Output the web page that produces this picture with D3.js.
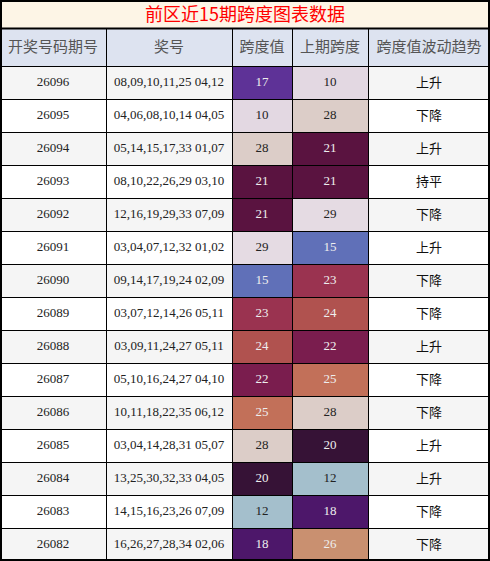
<!DOCTYPE html><html><head><meta charset="utf-8"><script src="https://cdn.jsdelivr.net/npm/d3@7"></script>
<style>body{margin:0;background:#fff}</style></head><body><svg id="c" width="490" height="561"></svg>
<script>
const title="前区近15期跨度图表数据";
const headers=["开奖号码期号","奖号","跨度值","上期跨度","跨度值波动趋势"];
const issues=["26096","26095","26094","26093","26092","26091","26090","26089","26088","26087","26086","26085","26084","26083","26082"];
const numbers=["08,09,10,11,25 04,12","04,06,08,10,14 04,05","05,14,15,17,33 01,07","08,10,22,26,29 03,10","12,16,19,29,33 07,09","03,04,07,12,32 01,02","09,14,17,19,24 02,09","03,07,12,14,26 05,11","03,09,11,24,27 05,11","05,10,16,24,27 04,10","10,11,18,22,35 06,12","03,04,14,28,31 05,07","13,25,30,32,33 04,05","14,15,16,23,26 07,09","16,26,27,28,34 02,06"];
const spans=[17,10,28,21,21,29,15,23,24,22,25,28,20,12,18];
const prevSpans=[10,28,21,21,29,15,23,24,22,25,28,20,12,18,26];
const trends=["上升","下降","上升","持平","下降","上升","下降","下降","上升","下降","下降","上升","上升","下降","下降"];

const svg=d3.select("#c");
const W=490,titleH=28,headH=38;
const x=d3.scaleOrdinal().domain(d3.range(5)).range([0,106,232,292,368]);
const wEnd=[106,232,292,368,490];
const y=d3.scaleBand().domain(d3.range(issues.length)).range([titleH+headH,561]);
const color=d3.scaleLinear().domain([10,12,15,17,18,20,21,22,23,24,25,26,28,29])
 .range(["#e3d8e2","#a4bfcc","#6070b8","#5e3297","#4d176a","#361236","#5a1340","#7a1d4e","#9a3350","#b0524f","#c27059","#c99070","#dccdc8","#e5dbe3"]);
const dark=v=>v>=15&&v<=26;
const cjk="'Noto Sans CJK SC',sans-serif", serif="'Liberation Serif','DejaVu Serif',serif";
svg.append("rect").attr("x",0).attr("y",0).attr("width",W).attr("height",titleH).attr("fill","#fdf5e6");
svg.append("text").attr("x",W/2).attr("y",titleH/2+2).attr("text-anchor","middle").attr("dominant-baseline","middle")
 .attr("fill","#f00").attr("font-family",cjk).attr("font-size",18).text(title);
headers.forEach((h,i)=>{
 svg.append("rect").attr("x",x(i)).attr("y",titleH).attr("width",wEnd[i]-x(i)).attr("height",headH).attr("fill","#dde3f0");
 svg.append("text").attr("x",(x(i)+wEnd[i])/2).attr("y",titleH+headH/2+1).attr("text-anchor","middle").attr("dominant-baseline","middle")
  .attr("fill","#555").attr("font-family",cjk).attr("font-size",15).text(h);
});
issues.forEach((iss,r)=>{
 const y0=y(r),bg=r%2?"#ffffff":"#f5f5f5";
 const cells=[[iss,bg,"#222",serif,13],[numbers[r],bg,"#222",serif,13],[spans[r],color(spans[r]),dark(spans[r])?"#eee":"#222",serif,13],[prevSpans[r],color(prevSpans[r]),dark(prevSpans[r])?"#eee":"#222",serif,13],[trends[r],bg,"#111",cjk,13]];
 cells.forEach((c,i)=>{
  svg.append("rect").attr("x",x(i)).attr("y",y0).attr("width",wEnd[i]-x(i)).attr("height",y.bandwidth()).attr("fill",c[1]);
  svg.append("text").attr("x",(x(i)+wEnd[i])/2).attr("y",y0+y.bandwidth()/2+1).attr("text-anchor","middle").attr("dominant-baseline","middle")
   .attr("fill",c[2]).attr("font-family",c[3]).attr("font-size",c[4]).text(c[0]);
 });
});
const g=svg.append("g").attr("stroke","#000").attr("fill","none");
[titleH,titleH+headH].concat(d3.range(1,issues.length).map(r=>y(r))).forEach(v=>g.append("line").attr("x1",0).attr("x2",W).attr("y1",v+0.5).attr("y2",v+0.5).attr("stroke-width",v===titleH?2:1));
[106,232,292,368].forEach(v=>g.append("line").attr("x1",v+0.5).attr("x2",v+0.5).attr("y1",titleH).attr("y2",561));
g.append("rect").attr("x",1).attr("y",1).attr("width",W-2).attr("height",559).attr("stroke-width",2);
</script></body></html>
